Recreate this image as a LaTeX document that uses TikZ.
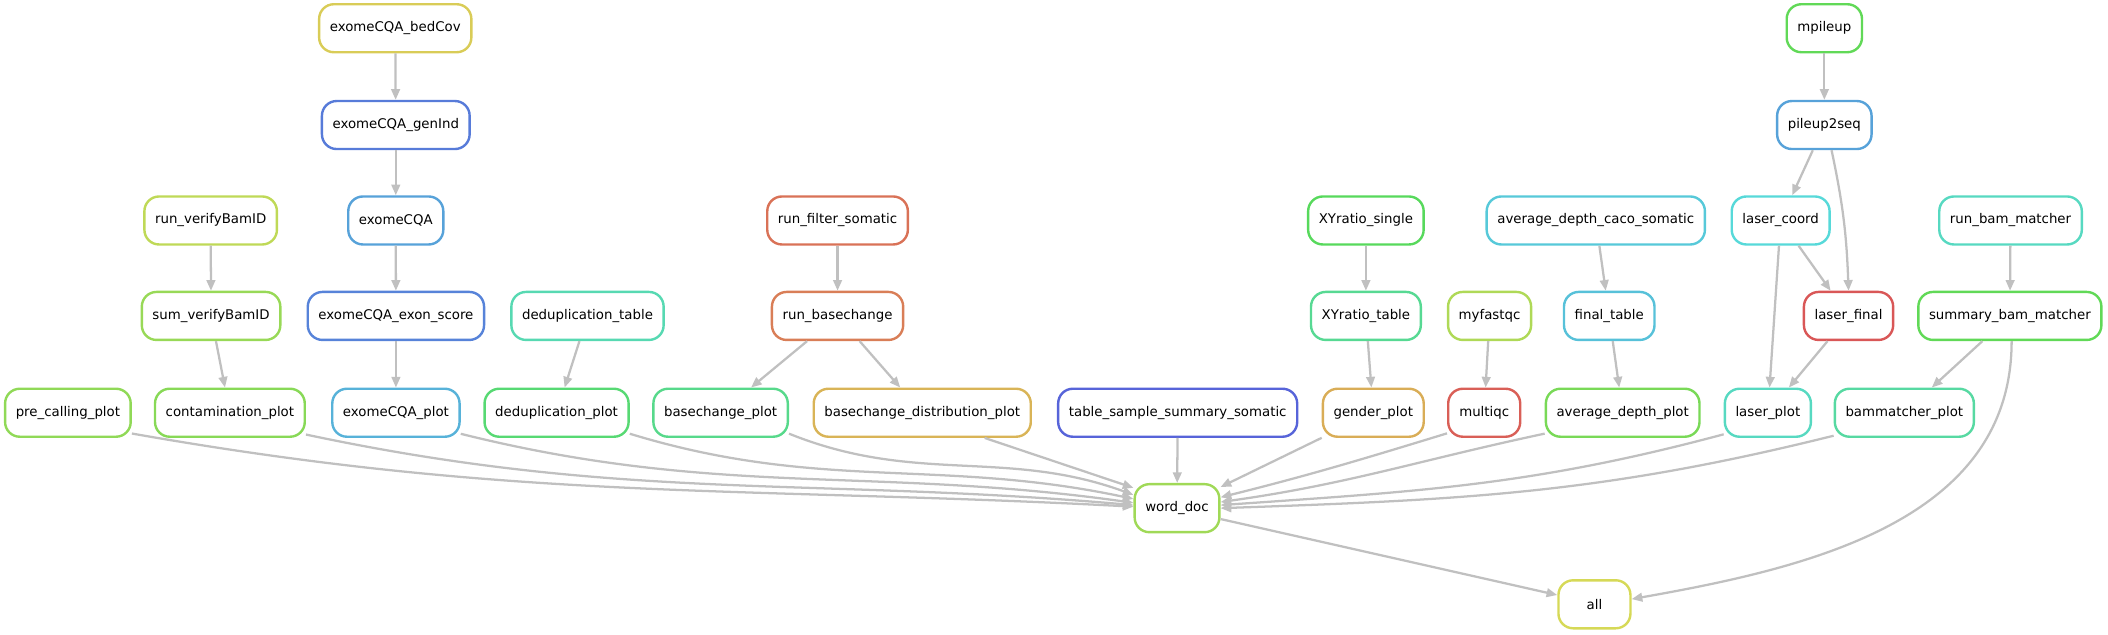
\PassOptionsToPackage{rgb}{xcolor}
\documentclass[tikz,border=0pt]{standalone}
\usepackage{fontspec}
\setmainfont{DejaVu Sans}
\usetikzlibrary{arrows.meta}
% rule colours (hue, 0.6, 0.85)
\definecolor{edgegray}{RGB}{192,192,192}
\definecolor{cbedcov}{hsb}{0.150,0.6,0.85}
\definecolor{cgenind}{hsb}{0.620,0.6,0.85}
\definecolor{cexomecqa}{hsb}{0.570,0.6,0.85}
\definecolor{crunvb}{hsb}{0.200,0.6,0.85}
\definecolor{csumvb}{hsb}{0.250,0.6,0.85}
\definecolor{cexonscore}{hsb}{0.610,0.6,0.85}
\definecolor{cduptable}{hsb}{0.450,0.6,0.85}
\definecolor{cfiltsom}{hsb}{0.035,0.6,0.85}
\definecolor{cbasech}{hsb}{0.050,0.6,0.85}
\definecolor{cprecall}{hsb}{0.260,0.6,0.85}
\definecolor{ccontam}{hsb}{0.270,0.6,0.85}
\definecolor{cexqaplot}{hsb}{0.550,0.6,0.85}
\definecolor{cdupplot}{hsb}{0.370,0.6,0.85}
\definecolor{cbcplot}{hsb}{0.400,0.6,0.85}
\definecolor{cbcdist}{hsb}{0.120,0.6,0.85}
\definecolor{ctss}{hsb}{0.650,0.6,0.85}
\definecolor{cxysingle}{hsb}{0.340,0.6,0.85}
\definecolor{cxytable}{hsb}{0.410,0.6,0.85}
\definecolor{cfastqc}{hsb}{0.220,0.6,0.85}
\definecolor{cdepthcaco}{hsb}{0.520,0.6,0.85}
\definecolor{cfinal}{hsb}{0.530,0.6,0.85}
\definecolor{cgender}{hsb}{0.110,0.6,0.85}
\definecolor{cmultiqc}{hsb}{0.010,0.6,0.85}
\definecolor{cdepthplot}{hsb}{0.290,0.6,0.85}
\definecolor{cmpileup}{hsb}{0.320,0.6,0.85}
\definecolor{cpileup}{hsb}{0.570,0.6,0.85}
\definecolor{clcoord}{hsb}{0.500,0.6,0.85}
\definecolor{clfinal}{hsb}{0.000,0.6,0.85}
\definecolor{crunbm}{hsb}{0.470,0.6,0.85}
\definecolor{csumbm}{hsb}{0.320,0.6,0.85}
\definecolor{clplot}{hsb}{0.470,0.6,0.85}
\definecolor{cbmplot}{hsb}{0.430,0.6,0.85}
\definecolor{cword}{hsb}{0.240,0.6,0.85}
\definecolor{call}{hsb}{0.170,0.6,0.85}
\begin{document}
\begin{tikzpicture}[
  x=1.0083pt, y=-1.0083pt,
  dagrule/.style = {draw, rounded corners=11pt, line width=1.8pt, fill=white,
    minimum height=36pt, minimum width=54pt, inner xsep=8pt,
    font=\fontsize{10}{12}\selectfont},
  dagedge/.style = {line width=1.7pt, draw=edgegray,
    -{Triangle[length=8pt,width=6.5pt]}}
]
  \useasboundingbox (0,0) rectangle (1568,472.3);
  % rank 1 and 2
  \node[dagrule, draw=cbedcov] (bedcov) at (294,21) {exomeCQA\_bedCov};
  \node[dagrule, draw=cmpileup] (mpileup) at (1357,21) {mpileup};
  \node[dagrule, draw=cgenind] (genind) at (294.4,93) {exomeCQA\_genInd};
  \node[dagrule, draw=cpileup] (p2s) at (1357,93) {pileup2seq};
  % rank 3
  \node[dagrule, draw=crunvb] (rvb) at (156.7,164) {run\_verifyBamID};
  \node[dagrule, draw=cexomecqa] (ecqa) at (294.4,164) {exomeCQA};
  \node[dagrule, draw=cfiltsom] (rfs) at (623,164) {run\_filter\_somatic};
  \node[dagrule, draw=cxysingle] (xys) at (1016,164) {XYratio\_single};
  \node[dagrule, draw=cdepthcaco] (adcs) at (1187,164) {average\_depth\_caco\_somatic};
  \node[dagrule, draw=clcoord] (lc) at (1324.5,164) {laser\_coord};
  \node[dagrule, draw=crunbm] (rbm) at (1495.5,164) {run\_bam\_matcher};
  % rank 4
  \node[dagrule, draw=csumvb] (svb) at (157,235) {sum\_verifyBamID};
  \node[dagrule, draw=cexonscore] (ees) at (294.5,235) {exomeCQA\_exon\_score};
  \node[dagrule, draw=cduptable] (ddt) at (437,235) {deduplication\_table};
  \node[dagrule, draw=cbasech] (rbc) at (623,235) {run\_basechange};
  \node[dagrule, draw=cxytable] (xyt) at (1016,235) {XYratio\_table};
  \node[dagrule, draw=cfastqc] (mfq) at (1108,235) {myfastqc};
  \node[dagrule, draw=cfinal] (ft) at (1197,235) {final\_table};
  \node[dagrule, draw=clfinal] (lf) at (1375,235) {laser\_final};
  \node[dagrule, draw=csumbm] (sbm) at (1495,235) {summary\_bam\_matcher};
  % rank 5
  \node[dagrule, draw=cprecall] (pcp) at (50.5,307) {pre\_calling\_plot};
  \node[dagrule, draw=ccontam] (cp) at (171,307) {contamination\_plot};
  \node[dagrule, draw=cexqaplot] (eqp) at (294.5,307) {exomeCQA\_plot};
  \node[dagrule, draw=cdupplot] (ddp) at (414,307) {deduplication\_plot};
  \node[dagrule, draw=cbcplot] (bcp) at (536,307) {basechange\_plot};
  \node[dagrule, draw=cbcdist] (bdp) at (686,307) {basechange\_distribution\_plot};
  \node[dagrule, draw=ctss] (tss) at (876,307) {table\_sample\_summary\_somatic};
  \node[dagrule, draw=cgender] (gp) at (1021.5,307) {gender\_plot};
  \node[dagrule, draw=cmultiqc] (mq) at (1104,307) {multiqc};
  \node[dagrule, draw=cdepthplot] (adp) at (1207,307) {average\_depth\_plot};
  \node[dagrule, draw=clplot] (lp) at (1315,307) {laser\_plot};
  \node[dagrule, draw=cbmplot] (bmp) at (1416.5,307) {bammatcher\_plot};
  % rank 6 and 7
  \node[dagrule, draw=cword] (wd) at (875.5,378) {word\_doc};
  \node[dagrule, draw=call] (all) at (1186,449.5) {all};
  % straight edges
  \draw[dagedge] (bedcov) -- (genind);
  \draw[dagedge] (genind) -- (ecqa);
  \draw[dagedge] (ecqa) -- (ees);
  \draw[dagedge] (ees) -- (eqp);
  \draw[dagedge] (rvb) -- (svb);
  \draw[dagedge] (svb) -- (cp);
  \draw[dagedge] (ddt) -- (ddp);
  \draw[dagedge] (rfs) -- (rbc);
  \draw[dagedge] (rbc) -- (bcp);
  \draw[dagedge] (rbc) -- (bdp);
  \draw[dagedge] (xys) -- (xyt);
  \draw[dagedge] (xyt) -- (gp);
  \draw[dagedge] (mfq) -- (mq);
  \draw[dagedge] (adcs) -- (ft);
  \draw[dagedge] (ft) -- (adp);
  \draw[dagedge] (mpileup) -- (p2s);
  \draw[dagedge] (p2s) -- (lc);
  \draw[dagedge] (p2s.-74) to[out=-78, in=92] (lf.north);
  \draw[dagedge] (lc) -- (lf);
  \draw[dagedge] (lc) -- (lp);
  \draw[dagedge] (lf) -- (lp);
  \draw[dagedge] (rbm) -- (sbm);
  \draw[dagedge] (sbm) -- (bmp);
  % into word_doc
  \draw[dagedge] (pcp.-18) to[out=-10, in=177] (wd.178);
  \draw[dagedge] (cp.-16) to[out=-12, in=175] (wd.176);
  \draw[dagedge] (eqp.-18) to[out=-14, in=172] (wd.173);
  \draw[dagedge] (ddp.-16) to[out=-17, in=168] (wd.168);
  \draw[dagedge] (bcp.-17) to[out=-22, in=160] (wd.163);
  \draw[dagedge] (bdp.-22) -- (wd.155);
  \draw[dagedge] (tss) -- (wd);
  \draw[dagedge] (gp) -- (wd);
  \draw[dagedge] (mq.209) to[out=197, in=14] (wd.14);
  \draw[dagedge] (adp.195) to[out=192, in=8] (wd.8);
  \draw[dagedge] (lp.206) to[out=195, in=4] (wd.4);
  \draw[dagedge] (bmp.198) to[out=194, in=2] (wd.0);
  % into all
  \draw[dagedge] (wd.-14) -- (all.166);
  \draw[dagedge] (sbm.-86) to[out=-90, in=10] (all.8);
\end{tikzpicture}
\end{document}
